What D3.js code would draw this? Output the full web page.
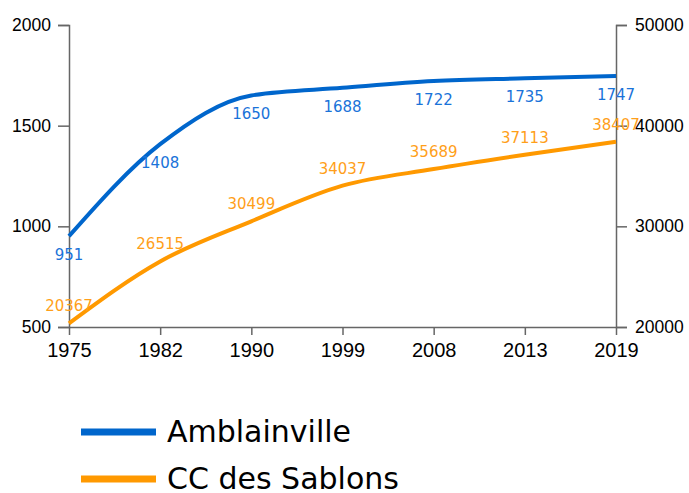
<!DOCTYPE html>
<html>
<head>
<meta charset="utf-8">
<script src="https://cdn.jsdelivr.net/npm/d3@7"></script>
<style>
  body { margin: 0; background: #fff; }
  text { font-family: "DejaVu Sans", sans-serif; }
  .tick text { font-family: "Liberation Sans", Arial, sans-serif; }
</style>
</head>
<body>
<div id="chart"></div>
<script>
const years = ["1975", "1982", "1990", "1999", "2008", "2013", "2019"];
const amblainville = [951, 1408, 1650, 1688, 1722, 1735, 1747];
const sablons = [20367, 26515, 30499, 34037, 35689, 37113, 38407];
const leftTicks = [500, 1000, 1500, 2000];
const rightTicks = [20000, 30000, 40000, 50000];

const width = 689, height = 493;
const svg = d3.select("#chart").append("svg")
  .attr("width", width).attr("height", height);

const x = d3.scalePoint().domain(years).range([69, 616]);
const yL = d3.scaleLinear().domain([500, 2000]).range([327, 25]);
const yR = d3.scaleLinear().domain([20000, 50000]).range([327, 25]);

const axisColor = "#666";

const gx = svg.append("g").attr("transform", "translate(0,327)")
  .call(d3.axisBottom(x).tickSize(8).tickSizeOuter(0).tickPadding(8));
gx.selectAll("text").style("font-size", "20px").attr("fill", "#000");

const gl = svg.append("g").attr("transform", "translate(69,0)")
  .call(d3.axisLeft(yL).tickValues(leftTicks).tickFormat(d3.format("d"))
    .tickSize(11).tickSizeOuter(11).tickPadding(7));
gl.selectAll("text").style("font-size", "17.5px").attr("fill", "#000");

const gr = svg.append("g").attr("transform", "translate(616,0)")
  .call(d3.axisRight(yR).tickValues(rightTicks).tickFormat(d3.format("d"))
    .tickSize(11).tickSizeOuter(11).tickPadding(8));
gr.selectAll("text").style("font-size", "17.5px").attr("fill", "#000");

svg.selectAll(".domain, .tick line").attr("stroke", axisColor).attr("stroke-width", 1.5);

const lineL = d3.line().x((d, i) => x(years[i])).y(d => yL(d)).curve(d3.curveMonotoneX);
const lineR = d3.line().x((d, i) => x(years[i])).y(d => yR(d)).curve(d3.curveMonotoneX);

const blue = "#0066cc", orange = "#ff9900";

svg.append("path").datum(sablons).attr("d", lineR)
  .attr("fill", "none").attr("stroke", orange).attr("stroke-width", 4);
svg.append("path").datum(amblainville).attr("d", lineL)
  .attr("fill", "none").attr("stroke", blue).attr("stroke-width", 4);

svg.append("g").selectAll("text").data(amblainville).enter().append("text")
  .attr("x", (d, i) => x(years[i]))
  .attr("y", d => yL(d) + 24)
  .attr("text-anchor", "middle")
  .style("font-size", "15px")
  .attr("fill", "#1a73d9")
  .text(d => d);

svg.append("g").selectAll("text").data(sablons).enter().append("text")
  .attr("x", (d, i) => x(years[i]))
  .attr("y", d => yR(d) - 12)
  .attr("text-anchor", "middle")
  .style("font-size", "15px")
  .attr("fill", "#ff9f1a")
  .text(d => d);

const legend = [["Amblainville", blue], ["CC des Sablons", orange]];
const lg = svg.append("g").selectAll("g").data(legend).enter().append("g")
  .attr("transform", (d, i) => `translate(81,${432 + i * 47})`);
lg.append("line").attr("x1", 0).attr("x2", 75).attr("y1", 0).attr("y2", 0)
  .attr("stroke", d => d[1]).attr("stroke-width", 7);
lg.append("text").attr("x", 86).attr("y", 10).style("font-size", "30px")
  .attr("fill", "#000").text(d => d[0]);
</script>
</body>
</html>
